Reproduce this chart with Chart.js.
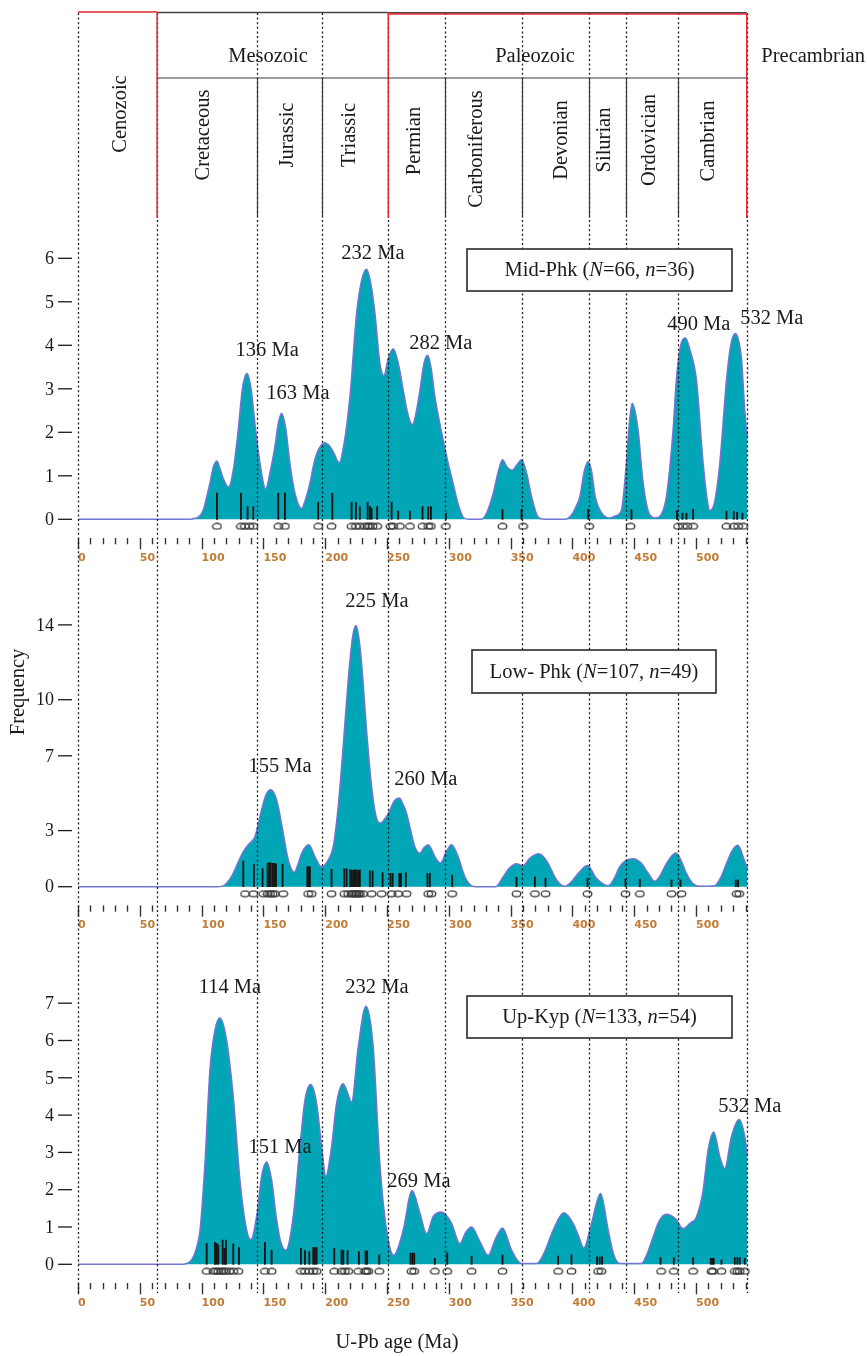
<!DOCTYPE html>
<html>
<head>
<meta charset="utf-8">
<script src="https://cdn.jsdelivr.net/npm/chart.js@4.4.0/dist/chart.umd.min.js"></script>
<style>
  html, body { margin: 0; padding: 0; background: #fff; }
  canvas { display: block; }
</style>
</head>
<body>
<canvas id="chart" width="867" height="1356"></canvas>
<script>
// ---- data ----
const ageTicks = [0, 50, 100, 150, 200, 250, 300, 350, 400, 450, 500];
const boundaries = [0, 64, 145, 197, 251, 297, 359, 413, 443, 485, 541];
const periodNames = ['Cenozoic', 'Cretaceous', 'Jurassic', 'Triassic', 'Permian', 'Carboniferous',
                     'Devonian', 'Silurian', 'Ordovician', 'Cambrian'];
const eraNames = ['Mesozoic', 'Paleozoic', 'Precambrian'];

// Mid-Phk probability curve [age Ma, frequency]
const midCurve = [[0,0],[88,0],[94,0.02],[97.3,0.05],[101.3,0.21],[104,0.5],[106.7,0.83],[109.5,1.2],[112.4,1.34],
  [115,1.15],[117.5,0.94],[121.8,0.74],[125.6,1.13],[129.6,2.05],[133,3.0],[136.7,3.35],[140,3.0],[143.1,2.2],
  [147.2,1.29],[151.8,0.7],[155.5,1.1],[159.3,1.67],[162,2.2],[164.7,2.44],[168,2.1],[171.4,1.29],[175.5,0.6],
  [180.9,0.25],[184,0.45],[187.6,0.83],[191,1.3],[194.3,1.59],[199.7,1.76],[203,1.7],[206.5,1.55],[211.3,1.3],
  [215,1.7],[220,2.82],[225.4,4.74],[229.5,5.5],[233.4,5.75],[237,5.4],[240.2,4.74],[244.2,3.59],[247.5,3.3],
  [251,3.7],[255,3.92],[259,3.6],[263.1,2.97],[267,2.4],[270.6,2.18],[273.5,2.45],[276.6,2.97],[280,3.6],
  [282.8,3.77],[285.5,3.5],[288.7,2.82],[292,2.3],[295.4,1.82],[299,1.35],[303.5,0.82],[307.5,0.35],[311.6,0.05],
  [316,0],[326,0],[330.5,0.14],[335.9,0.6],[340,1.1],[343.4,1.37],[347,1.2],[351.2,1.13],[355,1.25],[358.8,1.37],
  [363,1.05],[366.9,0.52],[372.2,0.05],[377,0],[394,0],[399.2,0.1],[403,0.3],[406,0.52],[409.5,1.1],[412.7,1.33],
  [415.5,1.1],[418.4,0.52],[423.8,0.14],[429.7,0.03],[435,0.08],[439.6,0.21],[443.6,1.29],[446,2.2],[448.3,2.67],
  [450.5,2.5],[453.1,2.05],[457.2,0.83],[462.6,0.1],[467.4,0.03],[472,0.12],[476,0.52],[481.4,2.05],[484,3.2],
  [488,4.05],[491.4,4.17],[495,3.9],[500.3,3.2],[505.7,1.29],[509,0.45],[511,0.2],[515,0.4],[519.2,1.29],
  [524.6,3.2],[528,4.0],[531.8,4.27],[534.5,4.1],[536.7,3.7],[539.4,2.5],[541.5,1.9]];

// Low-Phk probability curve
const lowCurve = [[0,0],[112,0],[117,0.03],[120.2,0.18],[125.7,0.73],[129.5,1.3],[133.7,1.87],[138.5,2.3],
  [143.1,2.67],[148.5,4.1],[152,4.9],[155.8,5.19],[159,4.95],[162,4.28],[166,2.87],[170.1,1.43],[175,0.77],
  [178,1.2],[180.9,1.79],[186.8,2.25],[191.7,1.6],[197,1.05],[202.4,1.43],[206.5,2.15],[210.5,4.28],[214.5,7.5],
  [218.6,11.05],[222,13.3],[224.8,13.97],[227,13.4],[229.4,11.95],[233.4,8.4],[237.5,5.35],[241,3.8],[244.2,3.4],
  [251,3.92],[256,4.6],[259.9,4.74],[263,4.4],[265.8,3.92],[272.5,2.14],[276.6,1.79],[280,2.1],[283.3,2.25],
  [286,2.0],[288.7,1.6],[293.3,1.27],[298,1.9],[302.2,2.25],[305,2.0],[307.6,1.6],[313,0.53],[318.4,0.05],[322,0],
  [338,0],[344,0.53],[349,1.0],[354.7,1.23],[360,1.12],[365.5,1.52],[372.8,1.76],[376.5,1.6],[380.3,1.25],
  [387.1,0.36],[393.8,0.02],[399,0.25],[404.6,0.71],[412.1,1.14],[419.4,0.45],[428.9,0.05],[433,0.35],[438.3,1.07],
  [443,1.4],[449.1,1.5],[455.8,1.25],[461,0.75],[466.6,0.29],[471,0.6],[476.1,1.25],[483.6,1.8],[487.5,1.45],
  [492.2,0.71],[497,0.2],[503,0.02],[515,0.05],[520,0.5],[524.6,1.25],[529,1.9],[533.5,2.21],[536,2.0],[538,1.6],
  [541.5,1.0]];

// Up-Kyp probability curve
const upCurve = [[0,0],[84,0],[86.5,0.01],[91.9,0.12],[95.5,0.4],[98.7,0.91],[102.7,2.71],[106.7,5.2],[110.8,6.28],
  [114.8,6.6],[120.2,6.01],[125.6,4.49],[131,2.26],[136.4,0.92],[139.9,0.66],[144.5,1.28],[148.5,2.35],[152.6,2.74],
  [156.6,2.26],[160.7,1.19],[164,0.6],[168.2,0.38],[174.1,1.28],[179.5,3.15],[183.6,4.4],[188.2,4.82],[193,4.32],
  [197.1,3.15],[200.5,2.36],[205.1,3.15],[209.2,4.32],[214.5,4.84],[218,4.6],[221.3,4.35],[226.7,5.83],[232.9,6.92],
  [238.8,5.83],[244.2,2.7],[249.6,0.92],[255.5,0.24],[259,0.45],[263.1,0.92],[270.3,1.98],[276.6,1.37],[282,0.82],
  [287.3,1.28],[294.1,1.4],[302.2,1.1],[308.9,0.55],[313.5,0.85],[318.4,1.0],[325.1,0.61],[331.8,0.24],[338,0.7],
  [343.4,0.97],[350.7,0.38],[358.8,0.02],[371,0.02],[377,0.3],[384.4,0.92],[393,1.38],[400.5,1.1],[405,0.75],
  [409.2,0.44],[415.4,1.1],[422.7,1.9],[428.9,0.92],[433,0.3],[438.3,0.02],[455.8,0.02],[460,0.25],[465.3,0.74],
  [470,1.15],[476,1.34],[483.6,1.21],[489.5,0.96],[495,1.1],[500.3,1.27],[505.7,1.98],[509.7,3.06],[514.3,3.55],
  [519.2,2.88],[523.2,2.57],[528.6,3.42],[534.8,3.88],[539.4,3.42],[541.5,2.9]];

// single-grain ages shown as bars [age, bar height]
const midBars = [[112.4,0.6],[131.8,0.6],[137.2,0.29],[141.8,0.29],[162,0.6],[167.4,0.6],[194.3,0.39],[205.7,0.6],
  [221.3,0.39],[224.8,0.39],[228,0.29],[234.3,0.39],[236.1,0.3],[237.5,0.25],[242,0.29],[253.7,0.39],[259,0.19],
  [268.5,0.19],[278.7,0.29],[283.3,0.29],[285.5,0.29],[297.6,0.14],[343.4,0.23],[358.8,0.23],[412.7,0.23],
  [447.7,0.22],[484.6,0.2],[489,0.14],[492.2,0.14],[497.6,0.23],[524.6,0.19],[530.5,0.18],[533.2,0.16],[537.5,0.14]];
const lowBars = [[133.7,1.37],[142.3,1.19],[149.3,0.98],[153.4,1.25],[154.7,1.28],[155.8,1.28],[157.4,1.25],
  [158.7,1.25],[160.1,1.22],[165.5,1.2],[185.5,1.07],[186.3,1.07],[187.6,1.07],[205.1,0.93],[215.4,0.96],
  [217.3,0.96],[220,0.9],[221.3,0.9],[222.6,0.88],[224,0.9],[225.3,0.9],[226.7,0.88],[228,0.9],[236.1,0.84],
  [238.3,0.84],[246.4,0.75],[252.8,0.71],[254.5,0.71],[259.9,0.71],[261.2,0.71],[265.2,0.75],[282.7,0.71],
  [284.6,0.71],[302.7,0.62],[354.7,0.5],[369.6,0.53],[378.2,0.45],[412.2,0.45],[442.9,0.4],[454.5,0.4],
  [480.1,0.36],[487.4,0.36],[532.1,0.36],[534,0.36]];
const upBars = [[104.1,0.56],[110.8,0.59],[112.2,0.56],[113.5,0.52],[117,0.65],[118.3,0.43],[119.7,0.65],
  [125.6,0.55],[130.2,0.45],[151.2,0.59],[156.6,0.38],[180.3,0.43],[183.6,0.37],[187.1,0.34],[190.3,0.45],
  [191.6,0.45],[193,0.45],[207.3,0.43],[213.2,0.38],[214.6,0.38],[218.1,0.37],[227.2,0.34],[232.6,0.36],
  [233.9,0.36],[243.7,0.25],[269,0.3],[270.5,0.3],[272,0.3],[288.7,0.16],[298.7,0.31],[318.4,0.22],[343.4,0.25],
  [388.4,0.22],[399.2,0.25],[419.9,0.2],[422,0.2],[424,0.2],[471.2,0.18],[482,0.18],[497.6,0.18],[511.9,0.16],
  [513.1,0.16],[514.3,0.16],[520.5,0.12],[531.3,0.18],[533.4,0.18],[535.3,0.18],[539.4,0.16]];

// analysed ages shown as open ellipses under the curve
const midSpots = [112.4,131.8,135.0,138.6,141.8,162.0,167.4,194.3,205.1,221.3,224.8,228.0,232.1,234.3,236.1,238.3,
  242.0,252.8,255.0,260.3,268.5,278.7,283.3,285.5,297.6,343.4,360.0,413.5,446.9,485.4,489.5,493.0,497.6,524.6,
  530.5,534.0,538.0];
const lowSpots = [135.1,141.8,149.9,153.4,155.3,157.4,159.3,166.0,186.2,189.0,205.1,215.4,218.6,221.3,222.6,224.0,
  225.3,226.7,228.0,230.7,237.5,245.6,253.7,259.0,265.8,283.3,286.0,302.7,354.7,369.6,378.2,412.2,442.9,454.5,
  480.1,488.2,532.7,534.9];
const upSpots = [104.1,109.5,111.6,113.5,115.7,117.6,119.7,122.4,125.6,129.7,151.2,156.6,180.3,183.6,187.1,190.3,
  193.0,207.3,213.2,215.9,218.6,226.7,232.1,233.4,234.8,243.7,269.8,272.0,288.7,298.7,318.4,343.4,388.4,399.2,
  420.7,423.4,471.7,482.0,497.6,512.4,513.7,520.5,531.3,533.4,535.3,539.4];

const midTicks = [0, 1, 2, 3, 4, 5, 6];
const lowTicks = [0, 3, 7, 10, 14];
const upTicks = [0, 1, 2, 3, 4, 5, 6, 7];

const midPeaks = ['136 Ma', '163 Ma', '232 Ma', '282 Ma', '490 Ma', '532 Ma'];
const lowPeaks = ['155 Ma', '225 Ma', '260 Ma'];
const upPeaks = ['114 Ma', '151 Ma', '232 Ma', '269 Ma', '532 Ma'];

// ---- layout (pixels / positions) ----
const SERIF = "'Liberation Serif', 'Times New Roman', serif";
const panels = [
  { id: 'y1', base: 519.3, unit: 43.5, min: -0.6, max: 6.8, ticks: midTicks,
    curve: midCurve, bars: midBars, spots: midSpots,
    peaks: midPeaks, peakPos: [[153, 3.87], [177.9, 2.9], [238.6, 6.1], [293.5, 4.03], [502.2, 4.47], [561.2, 4.61]],
    title: [['Mid-Phk (', 0], ['N', 1], ['=66, ', 0], ['n', 1], ['=36)', 0]], box: [467, 249, 732, 291] },
  { id: 'y2', base: 886.7, unit: 18.7, min: -1.2, max: 15.5, ticks: lowTicks,
    curve: lowCurve, bars: lowBars, spots: lowSpots,
    peaks: lowPeaks, peakPos: [[163.4, 6.4], [241.8, 15.22], [281.4, 5.72]],
    title: [['Low- Phk (', 0], ['N', 1], ['=107, ', 0], ['n', 1], ['=49)', 0]], box: [472, 650, 716, 693] },
  { id: 'y3', base: 1264.3, unit: 37.3, min: -0.6, max: 8, ticks: upTicks,
    curve: upCurve, bars: upBars, spots: upSpots,
    peaks: upPeaks, peakPos: [[122.9, 7.41], [163.4, 3.14], [241.8, 7.41], [275.8, 2.23], [543.4, 4.22]],
    title: [['Up-Kyp (', 0], ['N', 1], ['=133, ', 0], ['n', 1], ['=54)', 0]], box: [467, 996, 732, 1038] }
];
const periodPos = [[34.5, 114], [101.5, 135], [169.5, 135], [219.9, 135], [272.6, 141], [322.8, 149],
                   [391.1, 140], [425.6, 140], [462.8, 140], [510.5, 141]];
const eraPos = [153.7, 369.7, 594.7];

// ellipse marker
const ring = document.createElement('canvas');
ring.width = 11; ring.height = 8;
(function () {
  const c = ring.getContext('2d');
  c.strokeStyle = '#333';
  c.lineWidth = 1.25;
  c.beginPath();
  c.ellipse(5.5, 4, 4.3, 2.9, 0, 0, Math.PI * 2);
  c.stroke();
})();

const datasets = [];
panels.forEach(p => {
  datasets.push({
    type: 'line', yAxisID: p.id, order: 3, clip: false,
    data: p.curve.map(d => ({ x: d[0], y: d[1] })),
    borderColor: '#7474d2', borderWidth: 1.5, backgroundColor: '#00a6b6',
    fill: 'origin', pointRadius: 0, cubicInterpolationMode: 'monotone'
  });
  datasets.push({
    type: 'bar', yAxisID: p.id, order: 2, grouped: false, clip: false,
    data: p.bars.map(d => ({ x: d[0], y: d[1] })),
    backgroundColor: '#141414', barThickness: 1.2, borderWidth: 0
  });
  datasets.push({
    type: 'scatter', yAxisID: p.id, order: 1, clip: false,
    data: p.spots.map(a => ({ x: a, y: -7 / p.unit })),
    pointStyle: ring, pointRadius: 4
  });
});

const scales = {
  x: { type: 'linear', min: 0, max: 542, display: false, offset: false }
};
panels.forEach(p => {
  scales[p.id] = { type: 'linear', min: p.min, max: p.max, display: false };
});

// put each y scale at its own panel position
const placePanels = {
  id: 'placePanels',
  afterLayout(chart) {
    panels.forEach(p => {
      const s = chart.scales[p.id];
      s.top = p.base - s.max * p.unit;
      s.bottom = p.base - s.min * p.unit;
      s.height = s.bottom - s.top;
      s.configure();
    });
  }
};

function vtext(ctx, txt, x, y) {
  ctx.save();
  ctx.translate(x, y);
  ctx.rotate(-Math.PI / 2);
  ctx.textAlign = 'center';
  ctx.textBaseline = 'middle';
  ctx.fillText(txt, 0, 0);
  ctx.restore();
}

function line(ctx, x1, y1, x2, y2) {
  ctx.beginPath();
  ctx.moveTo(x1, y1);
  ctx.lineTo(x2, y2);
  ctx.stroke();
}

const decorations = {
  id: 'decorations',
  afterDraw(chart) {
    const ctx = chart.ctx;
    const x = chart.scales.x;
    const px = v => x.getPixelForValue(v);
    ctx.save();

    // axes, rulers, peak labels
    panels.forEach(p => {
      const y = chart.scales[p.id];
      const base = y.getPixelForValue(0);

      ctx.fillStyle = '#1a1a1a';
      ctx.strokeStyle = '#1a1a1a';
      ctx.lineWidth = 1.3;
      ctx.font = '18px ' + SERIF;
      ctx.textAlign = 'right';
      ctx.textBaseline = 'middle';
      p.ticks.forEach(t => {
        const ty = y.getPixelForValue(t);
        line(ctx, 58, ty, 72, ty);
        ctx.fillText(String(t), 54, ty + 1);
      });

      ctx.strokeStyle = '#333';
      ctx.lineWidth = 1.4;
      for (let a = 0; a <= 540; a += 10) {
        const tx = Math.round(px(a)) + 0.5;
        line(ctx, tx, base + 18.7, tx, base + (a % 50 === 0 ? 30 : 25));
      }
      ctx.fillStyle = '#c27b35';
      ctx.font = 'bold 11px "DejaVu Sans", sans-serif';
      ctx.textAlign = 'left';
      ageTicks.forEach(a => ctx.fillText(String(a), px(a), base + 38.5));

      ctx.fillStyle = '#1a1a1a';
      ctx.font = '20.5px ' + SERIF;
      ctx.textAlign = 'center';
      p.peaks.forEach((t, i) => {
        ctx.fillText(t, px(p.peakPos[i][0]), y.getPixelForValue(p.peakPos[i][1]));
      });
    });

    // dotted boundary lines across the whole figure
    ctx.strokeStyle = '#1a1a1a';
    ctx.lineWidth = 1.3;
    ctx.setLineDash([2, 2.6]);
    boundaries.forEach(b => {
      const bx = Math.round(px(b)) + 0.5;
      line(ctx, bx, 13, bx, 1293);
    });
    ctx.setLineDash([]);

    // time scale header
    const top = 12;
    ctx.lineWidth = 1.5;
    ctx.strokeStyle = '#e5262b';
    line(ctx, px(0), top, px(boundaries[1]), top);
    ctx.strokeStyle = '#444';
    line(ctx, px(boundaries[1]), top + 0.5, px(boundaries[4]), top + 0.5);
    line(ctx, px(boundaries[4]), top + 0.7, px(boundaries[10]), top + 0.7);
    ctx.strokeStyle = '#e5262b';
    line(ctx, px(boundaries[4]), top + 2, px(boundaries[10]), top + 2);
    line(ctx, px(boundaries[1]), top, px(boundaries[1]), 218);
    line(ctx, px(boundaries[4]), top, px(boundaries[4]), 218);
    line(ctx, px(boundaries[10]), top + 2, px(boundaries[10]), 218);
    ctx.strokeStyle = '#3a3a3a';
    ctx.lineWidth = 1.2;
    line(ctx, px(boundaries[1]), 78, px(boundaries[10]), 78);
    [2, 3, 5, 6, 7, 8, 9].forEach(i => {
      const bx = Math.round(px(boundaries[i])) + 0.5;
      line(ctx, bx, 78, bx, 216);
    });

    ctx.fillStyle = '#1a1a1a';
    ctx.font = '20.5px ' + SERIF;
    ctx.textAlign = 'center';
    ctx.textBaseline = 'middle';
    eraNames.forEach((t, i) => ctx.fillText(t, px(eraPos[i]), 57));
    periodNames.forEach((t, i) => vtext(ctx, t, px(periodPos[i][0]), periodPos[i][1]));

    // sample boxes
    panels.forEach(p => {
      const [x1, y1, x2, y2] = p.box;
      ctx.fillStyle = '#fff';
      ctx.fillRect(x1, y1, x2 - x1, y2 - y1);
      ctx.strokeStyle = '#2a2a2a';
      ctx.lineWidth = 1.6;
      ctx.strokeRect(x1, y1, x2 - x1, y2 - y1);
      const fonts = ['20.5px ' + SERIF, 'italic 20.5px ' + SERIF];
      let w = 0;
      p.title.forEach(([t, it]) => { ctx.font = fonts[it]; w += ctx.measureText(t).width; });
      let tx = (x1 + x2) / 2 - w / 2;
      const ty = (y1 + y2) / 2 + 1;
      ctx.fillStyle = '#1a1a1a';
      ctx.textAlign = 'left';
      p.title.forEach(([t, it]) => {
        ctx.font = fonts[it];
        ctx.fillText(t, tx, ty);
        tx += ctx.measureText(t).width;
      });
    });

    // axis titles
    ctx.font = '20.5px ' + SERIF;
    ctx.textAlign = 'center';
    vtext(ctx, 'Frequency', 19, 692);
    ctx.fillText('U-Pb age (Ma)', 397, 1343);

    ctx.restore();
  }
};

new Chart(document.getElementById('chart'), {
  type: 'line',
  data: { datasets: datasets },
  options: {
    responsive: false,
    animation: false,
    devicePixelRatio: 1,
    layout: { padding: { left: 78, right: 119, top: 10, bottom: 40 } },
    scales: scales,
    plugins: { legend: { display: false }, tooltip: { enabled: false } }
  },
  plugins: [placePanels, decorations]
});
</script>
</body>
</html>
